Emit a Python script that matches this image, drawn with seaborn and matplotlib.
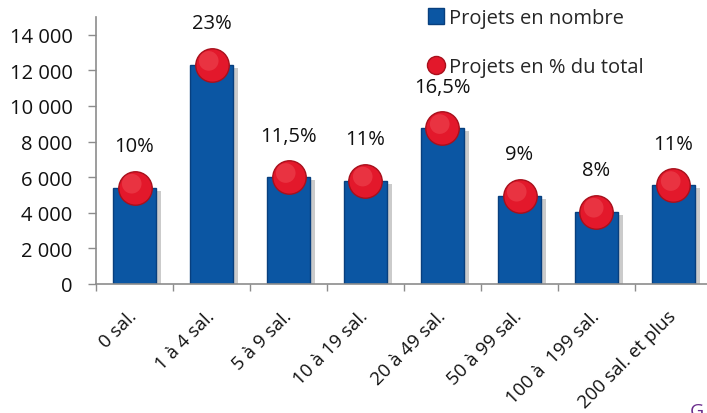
import matplotlib
matplotlib.use("Agg")
import matplotlib.pyplot as plt
import matplotlib.patheffects as pe
from matplotlib.transforms import ScaledTranslation
from matplotlib.lines import Line2D
import seaborn as sns
import pandas as pd
import numpy as np

categories = ["0 sal.", "1 à 4 sal.", "5 à 9 sal.", "10 à 19 sal.", "20 à 49 sal.",
              "50 à 99 sal.", "100 à  199 sal.", "200 sal. et plus"]
projets_nombre = [5400, 12300, 6000, 5800, 8750, 4950, 4050, 5550]
projets_pct_labels = ["10%", "23%", "11,5%", "11%", "16,5%", "9%", "8%", "11%"]
yticks = [0, 2000, 4000, 6000, 8000, 10000, 12000, 14000]
ytick_labels = ["0", "2 000", "4 000", "6 000", "8 000", "10 000", "12 000", "14 000"]
legend_labels = ["Projets en nombre", "Projets en % du total"]

sns.set_theme(style="white")
plt.rcParams["font.family"] = ["Open Sans", "DejaVu Sans"]

W, H = 707, 414
fig = plt.figure(figsize=(W / 100, H / 100), dpi=100)
ax = fig.add_axes([96 / W, 1 - 285 / H, (712 - 96) / W, (285 - 18) / H])

df = pd.DataFrame({"cat": categories, "n": projets_nombre})
blue = "#0b56a3"
sns.barplot(data=df, x="cat", y="n", color=blue, width=0.57, saturation=1,
            edgecolor="#083f7e", linewidth=1.0, ax=ax)
for p in ax.patches:
    p.set_path_effects([pe.SimplePatchShadow(offset=(3, -2), shadow_rgbFace="#555555", alpha=0.3),
                        pe.Normal()])

xs = np.arange(len(categories))
ax.scatter(xs, projets_nombre, s=580, color="#e3182b", edgecolor="#a8101c",
           linewidth=1.0, zorder=5)
hl = ax.transData + ScaledTranslation(-2 / 72, 3 / 72, fig.dpi_scale_trans)
ax.scatter(xs, projets_nombre, s=200, color="#f2545e", edgecolor="none",
           alpha=0.45, zorder=6, transform=hl)

for x, y, lab in zip(xs, projets_nombre, projets_pct_labels):
    ax.annotate(lab, (x, y), xytext=(0, 30), textcoords="offset points",
                ha="center", va="center", fontsize=14.5, color="#111111")

ax.set_ylim(0, 15000)
ax.set_xlim(-0.5, len(categories) - 0.5)
ax.set_yticks(yticks)
ax.set_yticklabels(ytick_labels)
ax.set_xticks(xs)
ax.set_xticklabels(categories, rotation=45, ha="right", va="center",
                   rotation_mode="anchor")
ax.set_xticks(np.arange(-0.5, len(categories), 1), minor=True)
ax.set_xlabel("")
ax.set_ylabel("")

ax.tick_params(axis="y", length=6, width=1, color="#8c8c8c", direction="out",
               pad=11, labelsize=14.5, labelcolor="#111111", left=True)
ax.tick_params(axis="x", which="major", length=0, pad=21, labelsize=13.5,
               labelcolor="#111111")
ax.tick_params(axis="x", which="minor", length=5, width=1, color="#8c8c8c",
               direction="out", bottom=True)
for s in ["top", "right"]:
    ax.spines[s].set_visible(False)
for s in ["left", "bottom"]:
    ax.spines[s].set_color("#8c8c8c")
    ax.spines[s].set_linewidth(1.2)

handles = [
    Line2D([], [], marker="s", linestyle="none", markersize=11,
           markerfacecolor=blue, markeredgecolor="#083f7e"),
    Line2D([], [], marker="o", linestyle="none", markersize=13,
           markerfacecolor="#e3182b", markeredgecolor="#a8101c"),
]
fig.legend(handles, legend_labels, loc="upper left",
           bbox_to_anchor=(426 / W, 1 - 9 / H), frameon=False, fontsize=14.5,
           handlelength=1.0, handletextpad=0.15, labelspacing=1.45,
           borderpad=0, borderaxespad=0)

fig.text(690 / W, 1 - 403 / H, "G", color="#6a2c8c", fontsize=14,
         ha="left", va="top")

fig.savefig("out.png", dpi=100)
